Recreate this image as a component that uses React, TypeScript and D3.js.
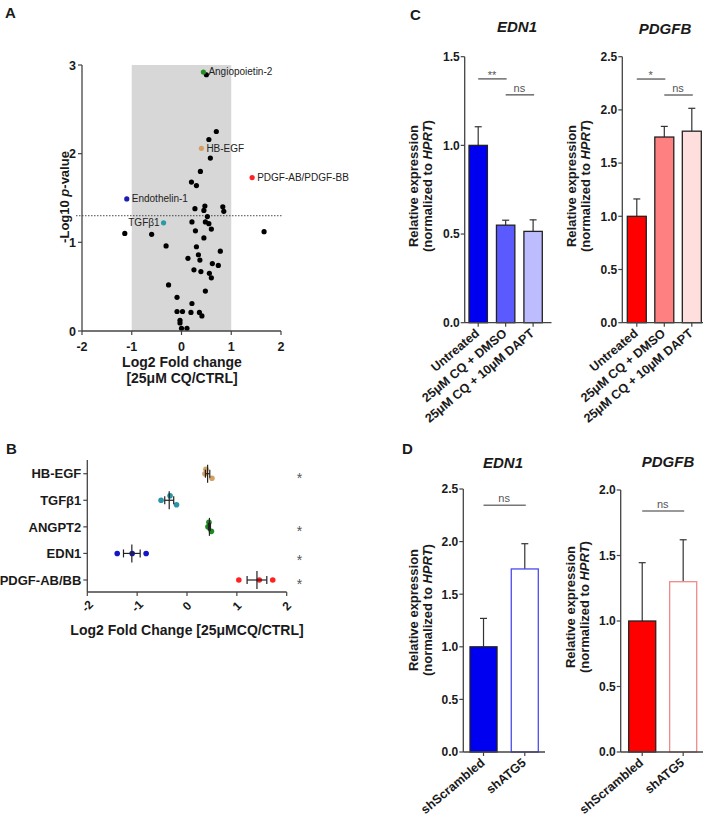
import React from 'react';
import * as d3 from 'd3';

// ---------- Panel A: volcano data ----------
const volcanoFC = [0.50,0.70,0.55,0.58,0.38,0.20,0.30,0.47,0.45,0.27,0.83,0.85,0.52,0.21,0.48,0.55,0.60,0.28,-1.14,-0.60,1.66,0.45,-0.31,0.30,0.78,0.34,0.13,0.37,0.62,0.74,0.25,0.39,0.56,0.60,-0.26,0.48,-0.09,0.21,-0.09,0.02,0.19,0.36,0.41,-0.03,-0.03,0.00,0.11];
const volcanoLogP = [2.89,2.25,2.16,1.95,1.80,1.68,1.64,1.41,1.36,1.38,1.40,1.35,1.29,1.23,1.23,1.21,1.15,1.13,1.10,1.09,1.12,1.05,0.96,0.95,0.90,0.86,0.82,0.80,0.76,0.74,0.69,0.67,0.65,0.60,0.52,0.45,0.38,0.31,0.22,0.22,0.21,0.21,0.17,0.12,0.09,0.03,0.03];
const labeledNames = ['Angiopoietin-2', 'HB-EGF', 'PDGF-AB/PDGF-BB', 'Endothelin-1', 'TGFβ1'];
const labeledFC = [0.44, 0.40, 1.42, -1.10, -0.36];
const labeledLogP = [2.92, 2.06, 1.73, 1.49, 1.22];
const labeledColors = ['#239023', '#d4a062', '#ff2222', '#1c1cb4', '#2a9aa6'];
const labeledSide = ['right', 'right', 'right', 'right', 'left'];
const volcanoXTicks = [-2, -1, 0, 1, 2];
const volcanoYTicks = [0, 1, 2, 3];
const pThreshold = 1.3;

// ---------- Panel B ----------
const bCategories = ['HB-EGF', 'TGFβ1', 'ANGPT2', 'EDN1', 'PDGF-AB/BB'];
const bReplicates = [
  [0.38, 0.36, 0.50],
  [-0.34, -0.52, -0.21],
  [0.44, 0.42, 0.49],
  [-1.40, -1.10, -0.82],
  [1.04, 1.45, 1.72],
];
const bColors = ['#d4a062', '#2a94a6', '#1e8b1e', '#1414c8', '#ff2222'];
const bSignificant = [true, false, true, true, true];
const bXTicks = [-2, -1, 0, 1, 2];

// ---------- Panel C ----------
const cCategories = ['Untreated', '25μM CQ + DMSO', '25μM CQ + 10μM DAPT'];
const cEdn1Mean = [1.0, 0.55, 0.515];
const cEdn1Err = [0.105, 0.028, 0.065];
const cEdn1Fill = ['#0000f0', '#5a5aff', '#bcbcff'];
const cEdn1Sig = [{ a: 0, b: 1, y: 1.375, t: '**' }, { a: 1, b: 2, y: 1.285, t: 'ns' }];
const cEdn1Ticks = [0, 0.5, 1.0, 1.5];
const cPdgfbMean = [1.0, 1.745, 1.80];
const cPdgfbErr = [0.163, 0.10, 0.215];
const cPdgfbFill = ['#ff0000', '#ff8080', '#ffdede'];
const cPdgfbSig = [{ a: 0, b: 1, y: 2.29, t: '*' }, { a: 1, b: 2, y: 2.14, t: 'ns' }];
const cPdgfbTicks = [0, 0.5, 1.0, 1.5, 2.0, 2.5];

// ---------- Panel D ----------
const dCategories = ['shScrambled', 'shATG5'];
const dEdn1Mean = [1.0, 1.74];
const dEdn1Err = [0.27, 0.24];
const dEdn1Fill = ['#0000f0', '#ffffff'];
const dEdn1Stroke = ['#222222', '#4b4bf0'];
const dEdn1Sig = [{ a: 0, b: 1, y: 2.345, t: 'ns' }];
const dEdn1Ticks = [0, 0.5, 1.0, 1.5, 2.0, 2.5];
const dPdgfbMean = [1.0, 1.30];
const dPdgfbErr = [0.445, 0.32];
const dPdgfbFill = ['#ff0000', '#ffffff'];
const dPdgfbStroke = ['#222222', '#f08a8a'];
const dPdgfbSig = [{ a: 0, b: 1, y: 1.84, t: 'ns' }];
const dPdgfbTicks = [0, 0.5, 1.0, 1.5, 2.0];

const FONT = 'Liberation Sans, Arial, sans-serif';
const AXIS = '#444';
const TXT = '#1a1a1a';

function Volcano() {
  const x = d3.scaleLinear().domain([-2, 2]).range([82, 281]);
  const y = d3.scaleLinear().domain([0, 3]).range([331, 65]);
  return (
    <g>
      <rect x={x(-1)} y={y(3)} width={x(1) - x(-1)} height={y(0) - y(3)} fill="#d7d7d7" />
      <line x1={76} x2={x(2) + 1} y1={y(pThreshold)} y2={y(pThreshold)} stroke="#333" strokeWidth={0.9} strokeDasharray="1.5,1.5" />
      {volcanoFC.map((v, i) => (
        <circle key={i} cx={x(v)} cy={y(volcanoLogP[i])} r={2.6} fill="#000" />
      ))}
      {labeledFC.map((v, i) => (
        <g key={i}>
          <circle cx={x(v)} cy={y(labeledLogP[i])} r={2.6} fill={labeledColors[i]} />
          <text x={labeledSide[i] === 'right' ? x(v) + 5 : x(v) - 4} y={y(labeledLogP[i]) + (i === 0 ? -1 : 0)} dy="0.35em"
            textAnchor={labeledSide[i] === 'right' ? 'start' : 'end'} fontSize={10} fill="#222">{labeledNames[i]}</text>
        </g>
      ))}
      <line x1={x(-2)} x2={x(-2)} y1={y(3)} y2={y(0)} stroke={AXIS} strokeWidth={1.3} />
      <line x1={x(-2)} x2={x(2)} y1={y(0)} y2={y(0)} stroke={AXIS} strokeWidth={1.3} />
      {volcanoYTicks.map(t => (
        <g key={t}>
          <line x1={x(-2) - 4} x2={x(-2)} y1={y(t)} y2={y(t)} stroke={AXIS} strokeWidth={1.2} />
          <text x={x(-2) - 6} y={y(t)} dy="0.36em" textAnchor="end" fontSize={12.5} fontWeight="bold" fill={TXT}>{t}</text>
        </g>
      ))}
      {volcanoXTicks.map(t => (
        <g key={t}>
          <line x1={x(t)} x2={x(t)} y1={y(0)} y2={y(0) + 4} stroke={AXIS} strokeWidth={1.2} />
          <text x={x(t)} y={351} textAnchor="middle" fontSize={12.5} fontWeight="bold" fill={TXT}>{t}</text>
        </g>
      ))}
      <text x={182} y={367} textAnchor="middle" fontSize={14} fontWeight="bold" fill={TXT}>Log2 Fold change</text>
      <text x={182} y={383} textAnchor="middle" fontSize={14} fontWeight="bold" fill={TXT}>[25μM CQ/CTRL]</text>
      <text transform="translate(69,197) rotate(-90)" textAnchor="middle" fontSize={13} fontWeight="bold" fill={TXT}>
        -Log10 <tspan fontStyle="italic">p</tspan>-value
      </text>
    </g>
  );
}

function DotPlot() {
  const x = d3.scaleLinear().domain([-2, 2]).range([87.3, 286.7]);
  const y = d3.scalePoint().domain(bCategories).range([473.7, 580]);
  const yTop = 460, yBot = 592;
  return (
    <g>
      {bReplicates.map((vals, ci) => {
        const cy = y(bCategories[ci]) as number;
        const mean = d3.mean(vals) as number;
        const sem = (d3.deviation(vals) as number) / Math.sqrt(vals.length);
        const spread = (d3.max(vals) as number) - (d3.min(vals) as number);
        return (
          <g key={ci}>
            {vals.map((v, i) => (
              <circle key={i} cx={x(v)} cy={cy + (spread < 0.4 ? (i - 1) * 4.5 : 0)} r={2.8} fill={bColors[ci]} />
            ))}
            <line x1={x(mean)} x2={x(mean)} y1={cy - 9} y2={cy + 9} stroke="#222" strokeWidth={1.2} />
            <line x1={x(mean - sem)} x2={x(mean + sem)} y1={cy} y2={cy} stroke="#222" strokeWidth={1.2} />
            <line x1={x(mean - sem)} x2={x(mean - sem)} y1={cy - 4} y2={cy + 4} stroke="#222" strokeWidth={1.2} />
            <line x1={x(mean + sem)} x2={x(mean + sem)} y1={cy - 4} y2={cy + 4} stroke="#222" strokeWidth={1.2} />
            {bSignificant[ci] && (
              <text x={299.5} y={cy + (ci === 3 ? 12 : 9)} textAnchor="middle" fontSize={14} fill="#555">*</text>
            )}
            <line x1={x(-2) - 4} x2={x(-2)} y1={cy} y2={cy} stroke={AXIS} strokeWidth={1.2} />
            <text x={x(-2) - 6} y={cy} dy="0.36em" textAnchor="end" fontSize={13} fontWeight="bold" fill={TXT}>{bCategories[ci]}</text>
          </g>
        );
      })}
      <line x1={x(-2)} x2={x(-2)} y1={yTop} y2={yBot} stroke={AXIS} strokeWidth={1.3} />
      <line x1={x(-2)} x2={x(2)} y1={yBot} y2={yBot} stroke={AXIS} strokeWidth={1.3} />
      {bXTicks.map(t => (
        <g key={t}>
          <line x1={x(t)} x2={x(t)} y1={yBot} y2={yBot + 4} stroke={AXIS} strokeWidth={1.2} />
          <text transform={`translate(${x(t)},${606}) rotate(-45)`} textAnchor="middle" dy="0.35em" fontSize={12} fontWeight="bold" fill={TXT}>{t}</text>
        </g>
      ))}
      <text x={187} y={635} textAnchor="middle" fontSize={14} fontWeight="bold" fill={TXT}>Log2 Fold Change [25μMCQ/CTRL]</text>
    </g>
  );
}

type Sig = { a: number; b: number; y: number; t: string };

function BarPanel(props: {
  cats: string[]; means: number[]; errs: number[]; fills: string[]; strokes?: string[];
  ticks: number[]; yMax: number; yZero: number; yTop: number;
  axisX: number; axisEnd: number; barStart: number; barEnd: number; padInner: number;
  title: string; titleX: number; titleY: number; sig: Sig[]; labelX: number; labelY: number;
}) {
  const p = props;
  const y = d3.scaleLinear().domain([0, p.yMax]).range([p.yZero, p.yTop]);
  const x = d3.scaleBand().domain(p.cats).range([p.barStart, p.barEnd]).paddingInner(p.padInner).paddingOuter(0);
  const bw = x.bandwidth();
  const cx = (i: number) => (x(p.cats[i]) as number) + bw / 2;
  return (
    <g>
      <text x={p.titleX} y={p.titleY} textAnchor="middle" fontSize={15} fontWeight="bold" fontStyle="italic" fill={TXT}>{p.title}</text>
      {p.cats.map((c, i) => (
        <g key={c}>
          <line x1={cx(i)} x2={cx(i)} y1={y(p.means[i])} y2={y(p.means[i] + p.errs[i])} stroke="#333" strokeWidth={1.2} />
          <line x1={cx(i) - 3.5} x2={cx(i) + 3.5} y1={y(p.means[i] + p.errs[i])} y2={y(p.means[i] + p.errs[i])} stroke="#333" strokeWidth={1.2} />
          <rect x={x(c)} y={y(p.means[i])} width={bw} height={y(0) - y(p.means[i])} fill={p.fills[i]}
            stroke={p.strokes ? p.strokes[i] : '#222'} strokeWidth={1.3} />
          <line x1={cx(i)} x2={cx(i)} y1={p.yZero} y2={p.yZero + 4} stroke={AXIS} strokeWidth={1.2} />
          <text transform={`translate(${cx(i) + 2},${p.yZero + 12}) rotate(-40)`} textAnchor="end"
            fontSize={12.5} fontWeight="bold" fill={TXT}>{c}</text>
        </g>
      ))}
      {p.sig.map((s, k) => (
        <g key={k}>
          <line x1={cx(s.a)} x2={cx(s.b) + 1} y1={y(s.y)} y2={y(s.y)} stroke="#777" strokeWidth={1.6} />
          <text x={(cx(s.a) + cx(s.b)) / 2} y={y(s.y) - (s.t === 'ns' ? 3 : 0)} textAnchor="middle" fontSize={11} fill="#555">{s.t}</text>
        </g>
      ))}
      <line x1={p.axisX} x2={p.axisX} y1={p.yTop} y2={p.yZero} stroke={AXIS} strokeWidth={1.3} />
      <line x1={p.axisX} x2={p.axisEnd} y1={p.yZero} y2={p.yZero} stroke={AXIS} strokeWidth={1.3} />
      {p.ticks.map(t => (
        <g key={t}>
          <line x1={p.axisX - 4} x2={p.axisX} y1={y(t)} y2={y(t)} stroke={AXIS} strokeWidth={1.2} />
          <text x={p.axisX - 5} y={y(t)} dy="0.36em" textAnchor="end" fontSize={12} fontWeight="bold" fill={TXT}>{t.toFixed(1)}</text>
        </g>
      ))}
      <text transform={`translate(${p.labelX},${p.labelY}) rotate(-90)`} textAnchor="middle" fontSize={13} fontWeight="bold" fill={TXT}>
        <tspan x={0} dy={0}>Relative expression</tspan>
        <tspan x={0} dy={14}>(normalized to <tspan fontStyle="italic">HPRT</tspan>)</tspan>
      </text>
    </g>
  );
}

export default function App() {
  return (
    <svg width={708} height={823} style={{ position: 'absolute', left: 0, top: 0, background: '#fff' }} fontFamily={FONT}>
      <rect x={0} y={0} width={708} height={823} fill="#fff" />
      <text x={5} y={18} fontSize={15} fontWeight="bold" fill={TXT}>A</text>
      <text x={6} y={454} fontSize={15} fontWeight="bold" fill={TXT}>B</text>
      <text x={410} y={20} fontSize={15} fontWeight="bold" fill={TXT}>C</text>
      <text x={402} y={454} fontSize={15} fontWeight="bold" fill={TXT}>D</text>
      <Volcano />
      <DotPlot />
      <BarPanel cats={cCategories} means={cEdn1Mean} errs={cEdn1Err} fills={cEdn1Fill} ticks={cEdn1Ticks}
        yMax={1.5} yZero={322.7} yTop={56.7} axisX={464.7} axisEnd={551.5} barStart={469} barEnd={542.3} padInner={0.33}
        title="EDN1" titleX={517} titleY={32} sig={cEdn1Sig} labelX={418} labelY={186} />
      <BarPanel cats={cCategories} means={cPdgfbMean} errs={cPdgfbErr} fills={cPdgfbFill} ticks={cPdgfbTicks}
        yMax={2.5} yZero={322.7} yTop={56.7} axisX={622.3} axisEnd={703} barStart={627.3} barEnd={701.3} padInner={0.31}
        title="PDGFB" titleX={665} titleY={34} sig={cPdgfbSig} labelX={576} labelY={186} />
      <BarPanel cats={dCategories} means={dEdn1Mean} errs={dEdn1Err} fills={dEdn1Fill} strokes={dEdn1Stroke} ticks={dEdn1Ticks}
        yMax={2.5} yZero={752} yTop={489} axisX={463.3} axisEnd={545} barStart={470} barEnd={538.3} padInner={0.345}
        title="EDN1" titleX={503} titleY={468} sig={dEdn1Sig} labelX={418} labelY={610} />
      <BarPanel cats={dCategories} means={dPdgfbMean} errs={dPdgfbErr} fills={dPdgfbFill} strokes={dPdgfbStroke} ticks={dPdgfbTicks}
        yMax={2.0} yZero={752} yTop={490} axisX={620.7} axisEnd={703} barStart={628.7} barEnd={696.7} padInner={0.34}
        title="PDGFB" titleX={668} titleY={467} sig={dPdgfbSig} labelX={575} labelY={607} />
    </svg>
  );
}
